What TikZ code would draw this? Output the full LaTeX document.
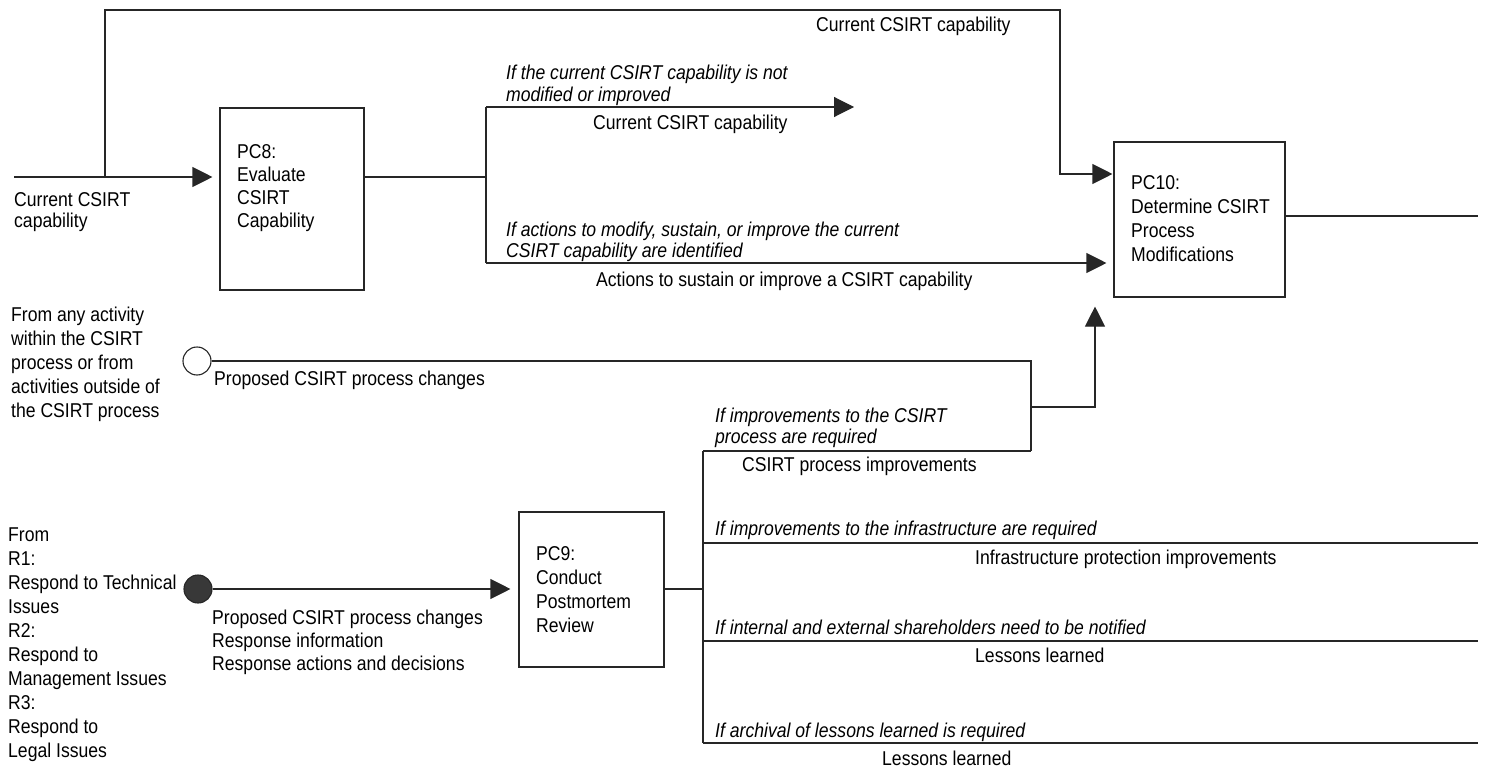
\documentclass[tikz,border=0pt]{standalone}
\usepackage{fontspec}
\setmainfont{Liberation Sans}[FakeStretch=0.88]
\usetikzlibrary{arrows.meta}
\newcommand\lblfont[1]{\fontsize{20}{#1}\selectfont}
\begin{document}
\begin{tikzpicture}[x=1pt,y=-1pt,
  line/.style={line width=1.1pt,draw=black!85},
  flow/.style={line,-{Triangle[length=20pt,width=20pt]}},
  proc/.style={draw=black!85,line width=1.1pt,rectangle,inner sep=0pt},
  lbl/.style={anchor=base west,inner sep=0pt,align=left,font=\lblfont{21}},
  cond/.style={lbl,font=\lblfont{21}\itshape},
  stub/.style={circle,draw=black!85,line width=1.1pt,minimum size=28pt,inner sep=0pt}]
\useasboundingbox (0,0) rectangle (1492,768);

% process boxes
\node[proc,minimum width=144pt,minimum height=182pt] (pc8) at (292,199) {};
\node[proc,minimum width=171pt,minimum height=155pt] (pc10) at (1199.5,219.5) {};
\node[proc,minimum width=145pt,minimum height=155pt] (pc9) at (591.5,589.5) {};

% box texts (multi-line nodes are placed by the baseline of their last line)
\node[lbl,font=\lblfont{22.7}] (pc8t) at (237,227) {PC8:\\Evaluate\\CSIRT\\Capability};
\node[lbl,font=\lblfont{24}] (pc10t) at (1131,261) {PC10:\\Determine CSIRT\\Process\\Modifications};
\node[lbl,font=\lblfont{24}] (pc9t) at (536,632) {PC9:\\Conduct\\Postmortem\\Review};

% external sources
\node[stub,fill=white] (src1) at (197,361) {};
\node[stub,fill=black!78] (src2) at (198,589) {};

% junction points
\coordinate (in1) at (14,177);
\coordinate (j1) at (105,177);
\coordinate (j1t) at (105,10);
\coordinate (j1r) at (1060,10);
\coordinate (j1d) at (1060,174);
\coordinate (j2) at (486,177);
\coordinate (j2t) at (486,107);
\coordinate (j2b) at (486,263);
\coordinate (end1) at (854,107);
\coordinate (out10) at (1478,216);
\coordinate (j3) at (1031,361);
\coordinate (j3b) at (1031,451);
\coordinate (j3m) at (1031,407);
\coordinate (j3r) at (1095,407);
\coordinate (j4t) at (703,451);
\coordinate (j4) at (703,589);
\coordinate (j4a) at (703,543);
\coordinate (j4b) at (703,641);
\coordinate (j4c) at (703,743);
\coordinate (e4a) at (1478,543);
\coordinate (e4b) at (1478,641);
\coordinate (e4c) at (1478,743);

% connectors
\draw[flow,shorten >=7pt] (in1) -- (pc8.west |- in1);
\draw[flow,shorten >=1pt] (j1) -- (j1t) -- (j1r) -- (j1d) -- (pc10.west |- j1d);
\draw[line] (pc8.east |- j2) -- (j2);
\draw[line] (j2t) -- (j2b);
\draw[flow] (j2t) -- (end1);
\draw[flow,shorten >=7pt] (j2b) -- (pc10.west |- j2b);
\draw[line] (pc10.east |- out10) -- (out10);

\draw[line] (src1.east) -- (j3) -- (j3b);
\draw[flow,shorten >=9pt] (j3m) -- (j3r) -- (pc10.south -| j3r);
\draw[line] (j4t) -- (j3b);
\draw[line] (j4t) -- (j4c);
\draw[line] (pc9.east |- j4) -- (j4);
\draw[line] (j4a) -- (e4a);
\draw[line] (j4b) -- (e4b);
\draw[line] (j4c) -- (e4c);
\draw[flow,shorten >=8pt] (src2.east) -- (pc9.west |- src2);

% labels
\node[lbl] (l1) at (816,32) {Current CSIRT capability};
\node[cond] (c1) at (506,101) {If the current CSIRT capability is not\\modified or improved};
\node[lbl] (l2) at (593,129) {Current CSIRT capability};
\node[lbl,font=\lblfont{21.5}] (l3) at (14,227.5) {Current CSIRT\\capability};
\node[cond] (c2) at (506,257) {If actions to modify, sustain, or improve the current\\CSIRT capability are identified};
\node[lbl] (l4) at (596,286) {Actions to sustain or improve a CSIRT capability};
\node[lbl,font=\lblfont{23.8}] (l5) at (11,417) {From any activity\\within the CSIRT\\process or from\\activities outside of\\the CSIRT process};
\node[lbl] (l6) at (214,385) {Proposed CSIRT process changes};
\node[cond] (c3) at (715,443) {If improvements to the CSIRT\\process are required};
\node[lbl] (l7) at (742,471) {CSIRT process improvements};
\node[lbl,font=\lblfont{23.9}] (l8) at (8,757) {From\\R1:\\Respond to Technical\\Issues\\R2:\\Respond to\\Management Issues\\R3:\\Respond to\\Legal Issues};
\node[lbl,font=\lblfont{23}] (l9) at (212,670) {Proposed CSIRT process changes\\Response information\\Response actions and decisions};
\node[cond] (c4) at (715,535) {If improvements to the infrastructure are required};
\node[lbl] (l10) at (975,564) {Infrastructure protection improvements};
\node[cond] (c5) at (715,634) {If internal and external shareholders need to be notified};
\node[lbl] (l11) at (975,662) {Lessons learned};
\node[cond] (c6) at (715,737) {If archival of lessons learned is required};
\node[lbl] (l12) at (882,765) {Lessons learned};
\end{tikzpicture}
\end{document}
